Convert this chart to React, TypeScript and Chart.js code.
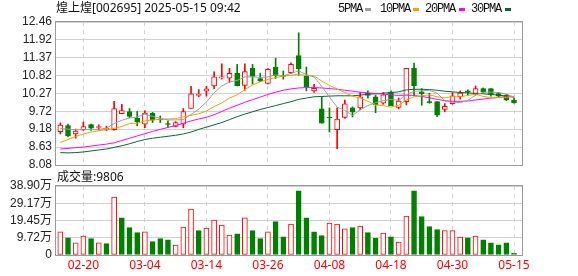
import React, { useEffect, useRef } from 'react';
import { Chart, registerables } from 'chart.js';

Chart.register(...registerables);

const DATES = ['02-17','02-18','02-19','02-20','02-21','02-24','02-25','02-26','02-27','02-28','03-03','03-04','03-05','03-06','03-07','03-10','03-11','03-12','03-13','03-14','03-17','03-18','03-19','03-20','03-21','03-24','03-25','03-26','03-27','03-28','03-31','04-01','04-02','04-03','04-07','04-08','04-09','04-10','04-11','04-14','04-15','04-16','04-17','04-18','04-21','04-22','04-23','04-24','04-25','04-28','04-29','04-30','05-06','05-07','05-08','05-09','05-12','05-13','05-14','05-15'];
const X_TICK_LABELS = ['02-20','03-04','03-14','03-26','04-08','04-18','04-30','05-15'];

const OPEN = [9.10,9.29,9.03,9.16,9.32,9.23,9.17,9.16,9.65,9.72,9.51,9.33,9.66,9.49,9.35,9.26,9.33,9.81,10.21,10.34,10.50,10.75,10.74,10.89,10.52,11.04,10.73,10.58,11.08,10.83,10.91,11.43,10.81,10.35,9.80,9.55,9.16,9.54,9.83,9.83,10.28,10.17,9.97,10.31,9.84,10.02,11.04,10.32,10.02,10.02,9.78,9.96,10.17,10.35,10.27,10.42,10.42,10.27,10.22,10.07];
const HIGH = [9.37,9.33,9.18,9.40,9.33,9.31,9.27,10.03,9.94,9.81,9.72,9.74,9.69,9.58,9.43,9.41,9.81,10.49,10.39,10.49,10.93,11.18,11.04,11.16,11.18,11.16,10.89,11.03,11.35,10.96,11.21,12.13,11.08,10.55,10.17,9.83,9.83,10.07,9.86,10.30,10.35,10.22,10.30,10.35,10.13,11.04,11.20,10.42,10.28,10.02,9.96,10.30,10.35,10.38,10.50,10.44,10.42,10.30,10.24,10.13];
const LOW = [9.03,8.95,8.90,9.13,9.14,9.15,9.13,9.15,9.65,9.53,9.28,9.22,9.38,9.38,9.25,9.25,9.22,9.81,10.17,10.19,10.42,10.71,10.61,10.50,10.37,10.56,10.63,10.56,10.73,10.71,10.88,10.83,10.35,10.30,9.36,9.09,8.58,9.51,9.55,9.77,10.13,9.68,9.94,9.90,9.80,9.92,10.23,9.91,9.97,9.56,9.71,9.94,10.10,10.23,10.22,10.29,10.19,10.17,10.05,9.97];
const CLOSE = [9.30,8.98,9.12,9.26,9.21,9.26,9.20,9.81,9.75,9.57,9.40,9.67,9.45,9.46,9.32,9.38,9.72,10.26,10.25,10.41,10.78,10.78,10.89,10.51,10.94,10.79,10.66,11.01,10.81,10.79,11.16,11.03,10.47,10.43,9.36,9.52,9.49,9.95,9.70,10.17,10.21,9.93,10.23,9.90,10.04,11.04,10.51,10.26,9.99,9.61,9.88,10.20,10.28,10.31,10.42,10.32,10.24,10.19,10.07,9.98];

const MA5 = [9.20,9.18,9.16,9.16,9.17,9.17,9.21,9.35,9.45,9.52,9.55,9.64,9.57,9.51,9.46,9.46,9.47,9.63,9.79,10.01,10.29,10.50,10.62,10.67,10.78,10.78,10.76,10.78,10.84,10.81,10.89,10.96,10.85,10.78,10.49,10.16,9.85,9.75,9.60,9.77,9.90,9.99,10.05,10.09,10.06,10.23,10.34,10.35,10.37,10.28,10.05,9.99,9.99,10.06,10.22,10.31,10.31,10.30,10.25,10.16];
const MA10 = [8.77,8.86,8.95,9.03,9.09,9.13,9.16,9.20,9.26,9.35,9.36,9.43,9.46,9.48,9.49,9.50,9.55,9.60,9.65,9.73,9.87,9.98,10.13,10.23,10.39,10.53,10.63,10.70,10.76,10.80,10.83,10.86,10.82,10.81,10.65,10.52,10.41,10.30,10.19,10.13,10.03,9.92,9.90,9.85,9.91,10.07,10.17,10.20,10.23,10.17,10.14,10.17,10.17,10.21,10.25,10.18,10.15,10.14,10.15,10.19];
const MA20 = [8.57,8.59,8.61,8.63,8.66,8.69,8.72,8.76,8.83,8.90,8.97,9.04,9.11,9.17,9.23,9.29,9.36,9.43,9.49,9.54,9.62,9.72,9.82,9.91,10.00,10.08,10.16,10.24,10.31,10.37,10.41,10.44,10.45,10.45,10.44,10.42,10.40,10.37,10.34,10.31,10.29,10.27,10.25,10.23,10.21,10.22,10.21,10.18,10.14,10.09,10.05,10.03,10.03,10.04,10.07,10.10,10.13,10.15,10.17,10.17];
const MA30 = [8.46,8.45,8.46,8.48,8.51,8.54,8.57,8.62,8.67,8.73,8.80,8.86,8.90,8.93,8.96,8.99,9.03,9.09,9.17,9.24,9.31,9.38,9.47,9.56,9.64,9.71,9.78,9.84,9.90,9.96,10.02,10.09,10.13,10.17,10.18,10.19,10.20,10.20,10.20,10.22,10.25,10.26,10.28,10.30,10.32,10.38,10.40,10.40,10.39,10.37,10.34,10.32,10.30,10.29,10.27,10.26,10.24,10.22,10.19,10.16];

// volume in 万 (10k shares)
const VOLUME = [13.0,9.75,6.8,10.7,9.2,6.8,6.4,32.7,21.0,15.4,12.6,13.0,7.5,9.2,8.6,5.6,15.8,25.9,13.7,15.2,19.7,16.9,11.3,12.0,20.9,13.7,9.2,13.0,18.8,10.3,17.5,36.2,21.0,13.1,10.9,18.0,17.5,14.7,15.4,16.3,12.6,9.4,12.4,10.3,7.3,22.0,36.2,21.6,16.0,14.3,13.7,13.7,10.1,9.75,10.7,8.6,6.9,5.8,6.9,0.98];
const VOLUME_RISE = 'rgrrgrgrgggrgggrrrgrrrrgrggrggrggggrrrgrggrgrrggggrrrgrggggg';

const PRICE_TICKS = [8.08, 8.63, 9.18, 9.72, 10.27, 10.82, 11.37, 11.92, 12.46];
const VOLUME_TICKS = [0, 9.72, 19.45, 29.17, 38.90];
const VOLUME_TICK_LABELS = ['0', '9.72万', '19.45万', '29.17万', '38.90万'];

const RED = '#ff0000';
const GREEN = '#008000';
const GRID = '#d0d0d0';
const FRAME = '#9a9a9a';
const X_MIN = 0.44;
const X_MAX = 61.04;
const AXIS_FONT = "'Liberation Sans', 'Noto Sans CJK SC', sans-serif";

const framePlugin = {
  id: 'frame',
  afterDraw(chart: any) {
    const { ctx, chartArea: a } = chart;
    ctx.save();
    ctx.strokeStyle = FRAME;
    ctx.lineWidth = 1;
    const l = Math.round(a.left) - 0.5;
    const t = Math.round(a.top) - 0.5;
    const r = Math.round(a.right) + 0.5;
    const b = Math.round(a.bottom) + 0.5;
    ctx.strokeRect(l, t, r - l, b - t);
    ctx.restore();
  },
};

function xTicks(scale: any) {
  scale.ticks = X_TICK_LABELS.map((l) => ({ value: DATES.indexOf(l) + 1 }));
}

export default function App() {
  const mainRef = useRef<HTMLCanvasElement>(null);
  const volRef = useRef<HTMLCanvasElement>(null);

  useEffect(() => {
    const idx = DATES.map((_, i) => i + 1);
    const up = CLOSE.map((c, i) => c >= OPEN[i]);
    const line = (label: string, values: number[], color: string) => ({
      type: 'line' as const,
      label,
      data: idx.map((x, i) => ({ x, y: values[i] })),
      borderColor: color,
      borderWidth: 1,
      pointRadius: 0,
      tension: 0,
      order: 0,
    });

    const main = new Chart(mainRef.current!, {
      type: 'bar',
      data: {
        datasets: [
          line('5PMA', MA5, '#9e9e9e'),
          line('10PMA', MA10, '#f5a100'),
          line('20PMA', MA20, '#ff00ff'),
          line('30PMA', MA30, '#006a35'),
          {
            type: 'bar',
            label: 'body',
            data: idx.map((x, i) => ({ x, y: [OPEN[i], CLOSE[i]] })) as any,
            backgroundColor: up.map((u) => (u ? '#ffffff' : GREEN)),
            borderColor: up.map((u) => (u ? RED : GREEN)),
            borderWidth: 1,
            borderSkipped: false,
            barThickness: 5,
            grouped: false,
            order: 1,
          },
          {
            type: 'bar',
            label: 'wick',
            data: idx.map((x, i) => ({ x, y: [LOW[i], HIGH[i]] })) as any,
            backgroundColor: up.map((u) => (u ? RED : GREEN)),
            borderWidth: 0,
            barThickness: 1,
            grouped: false,
            order: 2,
          },
        ] as any,
      },
      options: {
        animation: false,
        responsive: false,
        events: [],
        layout: { padding: { top: 22, right: 56, bottom: 111, left: 0 } },
        plugins: { legend: { display: false }, tooltip: { enabled: false } },
        scales: {
          x: {
            type: 'linear',
            offset: false,
            min: X_MIN,
            max: X_MAX,
            afterBuildTicks: xTicks,
            ticks: { display: false },
            grid: { color: GRID, drawTicks: false, offset: false },
            border: { display: false, dash: [4, 4] },
            afterFit: (s: any) => { s.height = 0; },
          },
          y: {
            min: 8.08,
            max: 12.46,
            afterBuildTicks: (s: any) => { s.ticks = PRICE_TICKS.map((v) => ({ value: v })); },
            ticks: {
              callback: (v: any) => Number(v).toFixed(2),
              font: { family: AXIS_FONT, size: 12 },
              color: '#222222',
              padding: 4,
              autoSkip: false,
            },
            grid: { color: GRID, drawTicks: false },
            border: { display: false },
            afterFit: (s: any) => { s.width = 56; },
          },
        } as any,
      },
      plugins: [framePlugin],
    });

    const volRise = VOLUME_RISE.split('').map((c) => c === 'r');
    const vol = new Chart(volRef.current!, {
      type: 'bar',
      data: {
        datasets: [
          {
            label: 'volume',
            data: idx.map((x, i) => ({ x, y: VOLUME[i] })) as any,
            backgroundColor: volRise.map((u) => (u ? '#ffffff' : GREEN)),
            borderColor: volRise.map((u) => (u ? RED : GREEN)),
            borderWidth: 1,
            borderSkipped: false,
            barThickness: 5,
            grouped: false,
          },
        ],
      },
      options: {
        animation: false,
        responsive: false,
        events: [],
        layout: { padding: { top: 186, right: 56, bottom: 0, left: 0 } },
        plugins: { legend: { display: false }, tooltip: { enabled: false } },
        scales: {
          x: {
            type: 'linear',
            offset: false,
            min: X_MIN,
            max: X_MAX,
            afterBuildTicks: xTicks,
            ticks: {
              callback: (v: any) => DATES[Math.round(Number(v)) - 1],
              color: RED,
              font: { family: "'Noto Sans', sans-serif", size: 12 },
              padding: 3,
              autoSkip: false,
              maxRotation: 0,
            },
            grid: { color: GRID, drawTicks: false, offset: false },
            border: { display: false, dash: [4, 4] },
            afterFit: (s: any) => { s.height = 21; },
          },
          y: {
            min: 0,
            max: 38.9,
            afterBuildTicks: (s: any) => { s.ticks = VOLUME_TICKS.map((v) => ({ value: v })); },
            ticks: {
              callback: (_v: any, i: number) => VOLUME_TICK_LABELS[i],
              font: { family: AXIS_FONT, size: 12 },
              color: '#222222',
              padding: 4,
              autoSkip: false,
            },
            grid: { color: GRID, drawTicks: false },
            border: { display: false },
            afterFit: (s: any) => { s.width = 56; },
          },
        } as any,
      },
      plugins: [framePlugin],
    });

    return () => {
      main.destroy();
      vol.destroy();
    };
  }, []);

  const legendText: React.CSSProperties = {
    position: 'absolute',
    top: 1,
    fontFamily: "'Liberation Mono', monospace",
    fontSize: 12,
    letterSpacing: '-1.2px',
    lineHeight: '16px',
    color: '#111',
    whiteSpace: 'nowrap',
  };
  const mark = (left: number, color: string): React.CSSProperties => ({
    position: 'absolute',
    left,
    top: 8,
    width: 6,
    height: 3,
    background: color,
  });

  return (
    <div style={{ position: 'fixed', left: 0, top: 0, width: 578, height: 276, background: '#fff', overflow: 'hidden' }}>
      <canvas ref={volRef} width={578} height={276} style={{ position: 'absolute', left: 0, top: 0, display: 'block' }} />
      <canvas ref={mainRef} width={578} height={276} style={{ position: 'absolute', left: 0, top: 0, display: 'block' }} />
      <div style={{ position: 'absolute', left: 56, top: 0, fontFamily: "'Noto Sans', 'Noto Sans CJK SC', sans-serif", fontSize: 12, lineHeight: '16px', color: '#111', whiteSpace: 'nowrap' }}>
        煌上煌[002695] 2025-05-15 09:42
      </div>
      <div style={{ ...legendText, left: 338 }}>5PMA</div>
      <div style={mark(365, '#9e9e9e')} />
      <div style={{ ...legendText, left: 380 }}>10PMA</div>
      <div style={mark(413, '#f5a100')} />
      <div style={{ ...legendText, left: 425 }}>20PMA</div>
      <div style={mark(459, '#ff00ff')} />
      <div style={{ ...legendText, left: 471 }}>30PMA</div>
      <div style={mark(505, '#006a35')} />
      <div style={{ position: 'absolute', left: 57, top: 169, fontFamily: "'Noto Sans', 'Noto Sans CJK SC', sans-serif", fontSize: 12, lineHeight: '16px', color: '#111', whiteSpace: 'nowrap' }}>
        成交量:9806
      </div>
    </div>
  );
}
